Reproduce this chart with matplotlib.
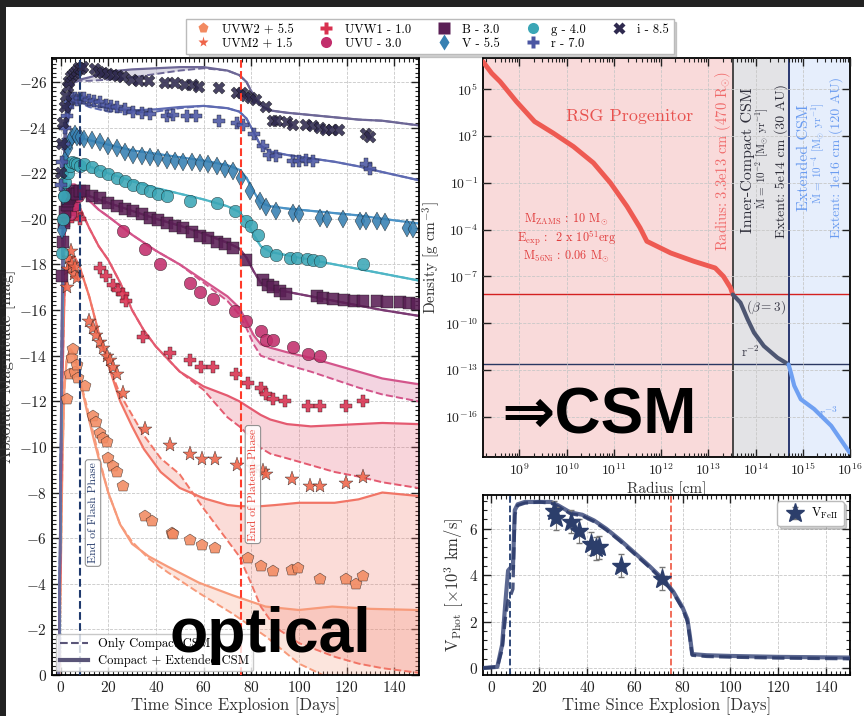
import numpy as np
import matplotlib
matplotlib.use('Agg')
import matplotlib.pyplot as plt
from matplotlib.lines import Line2D
from matplotlib.patches import Rectangle
from matplotlib.ticker import (MultipleLocator, FixedLocator, LogLocator,
                               NullLocator, LogFormatterSciNotation, NullFormatter)

plt.rcParams['font.family'] = 'serif'
plt.rcParams['font.serif'] = ['cmr10']
plt.rcParams['mathtext.fontset'] = 'cm'
plt.rcParams['axes.formatter.use_mathtext'] = True
plt.rcParams['axes.unicode_minus'] = True

# ---------------- light-curve data (days, shifted magnitudes) ----------------
uvw2_t = [2.5, 4.0, 4.8, 5.3, 6.0, 6.7, 7.5, 10.2, 13.7, 15.0, 16.5, 18.0, 19.3, 20.0, 22.0, 23.5,
          26.3, 35.4, 38.2, 46.6, 47.2, 54.3, 59.2, 64.8, 78.7, 84.3, 89.0, 96.9, 99.7, 108.8,
          119.8, 124.0, 127.0]
uvw2_m = [-12.1, -13.2, -13.9, -14.3, -13.3, -13.6, -13.0, -12.67, -11.35, -11.1, -10.6, -10.4,
          -10.2, -9.5, -9.15, -8.9, -8.28, -6.96, -6.75, -6.24, -6.2, -5.94, -5.7, -5.56, -5.12,
          -4.77, -4.55, -4.6, -4.7, -4.2, -4.19, -3.97, -4.34]
uvm2_t = [2.5, 3.0, 3.5, 4.2, 5.0, 5.5, 6.2, 7.0, 12.0, 13.5, 15.0, 16.5, 18.0, 19.5, 20.7, 22.0,
          23.5, 26.3, 35.4, 45.9, 54.3, 59.2, 64.8, 73.9, 80.9, 85.0, 86.4, 96.9, 104.6, 108.8,
          119.8, 127.0]
uvm2_m = [-17.0, -17.8, -18.3, -18.6, -18.0, -17.6, -17.9, -17.4, -15.5, -15.2, -14.9, -14.6,
          -14.35, -14.0, -13.8, -13.5, -13.2, -12.37, -10.77, -10.1, -9.67, -9.45, -9.45, -9.2,
          -9.1, -8.95, -8.8, -8.6, -8.28, -8.3, -8.4, -8.7]
uvw1_t = [3.0, 4.0, 5.0, 6.0, 7.0, 8.0, 16.5, 19.0, 22.0, 24.0, 26.0, 27.6, 34.7, 46.0, 54.3,
          59.0, 64.0, 73.8, 78.7, 84.3, 86.4, 89.0, 94.0, 104.0, 109.0, 119.8, 126.8]
uvw1_m = [-19.9, -20.4, -20.8, -20.5, -20.2, -20.0, -17.86, -17.5, -17.1, -16.9, -16.7, -16.4,
          -14.8, -14.1, -13.8, -13.5, -13.5, -13.2, -12.8, -12.6, -12.3, -12.1, -12.0, -11.8,
          -11.8, -11.8, -12.0]
uvu_t = [4.0, 5.0, 5.5, 6.6, 7.5, 26.3, 35.4, 41.7, 54.3, 58.5, 64.0, 73.0, 78.0, 84.0, 86.4,
         89.0, 97.5, 104.0, 109.0]
uvu_m = [-20.2, -21.0, -20.6, -21.2, -21.0, -19.47, -18.66, -18.0, -17.2, -16.8, -16.47, -15.95,
         -15.5, -15.1, -14.7, -14.7, -14.4, -14.06, -14.0]
b_t = [0.5, 1.0, 1.5, 2.0, 2.5, 3.0, 3.5, 4.0, 5.0, 6.0, 7.0, 8.0, 10.0, 13.0, 16.5, 20.0, 23.5,
       27.0, 30.5, 34.0, 37.5, 41.0, 44.5, 48.0, 51.4, 55.0, 58.5, 62.0, 65.5, 69.0, 72.5, 78.0,
       85.0, 87.0, 89.0, 92.0, 94.7, 107.4, 110.0, 114.4, 119.0, 123.0, 127.0, 132.7, 137.0,
       142.4, 146.0, 149.5]
b_m = [-17.5, -19.0, -19.8, -20.3, -20.6, -20.8, -20.9, -21.0, -21.1, -21.2, -21.1, -21.2, -21.2,
       -21.0, -20.9, -20.7, -20.56, -20.45, -20.34, -20.2, -20.05, -19.95, -19.83, -19.7, -19.6,
       -19.4, -19.25, -19.15, -19.0, -18.9, -18.74, -18.2, -17.3, -17.1, -17.0, -16.85, -16.7,
       -16.6, -16.55, -16.5, -16.45, -16.4, -16.4, -16.4, -16.35, -16.35, -16.3, -16.25]
g_t = [0.5, 1.0, 1.5, 2.0, 3.0, 4.0, 5.0, 6.0, 7.0, 8.0, 10.0, 13.0, 16.5, 20.0, 23.5, 27.0, 30.5,
       34.0, 37.5, 41.0, 44.5, 54.3, 65.5, 73.0, 78.0, 80.0, 83.0, 86.4, 90.5, 96.3, 99.0, 103.2,
       106.0, 109.0, 127.0]
g_m = [-18.5, -20.0, -21.0, -21.6, -22.0, -22.3, -22.5, -22.45, -22.4, -22.3, -22.4, -22.25,
       -22.1, -21.95, -21.8, -21.65, -21.5, -21.35, -21.2, -21.1, -21.0, -20.8, -20.7, -20.35,
       -19.9, -19.7, -19.3, -18.6, -18.4, -18.3, -18.3, -18.25, -18.2, -18.15, -18.0]
v_t = [0.5, 1.0, 1.5, 2.0, 3.0, 4.0, 5.0, 6.0, 7.0, 8.0, 10.0, 13.0, 16.5, 20.0, 23.5, 27.0, 30.5,
       34.0, 37.5, 41.0, 44.5, 48.0, 51.4, 55.0, 58.5, 62.0, 65.5, 69.0, 72.5, 75.5, 79.4, 83.6,
       86.4, 90.5, 97.5, 100.0, 108.8, 112.0, 118.6, 125.6, 128.0, 132.7, 136.0, 145.3, 148.0]
v_m = [-19.5, -21.0, -22.0, -22.6, -23.1, -23.4, -23.6, -23.7, -23.6, -23.6, -23.5, -23.45,
       -23.35, -23.2, -23.1, -22.95, -22.8, -22.75, -22.7, -22.65, -22.6, -22.55, -22.5, -22.5,
       -22.45, -22.4, -22.3, -22.2, -22.1, -21.8, -21.2, -20.78, -20.5, -20.34, -20.25, -20.2,
       -20.05, -20.0, -19.97, -19.9, -19.9, -19.9, -19.85, -19.6, -19.55]
r_t = [0.3, 0.8, 1.3, 1.8, 2.5, 3.2, 4.0, 5.0, 6.0, 7.0, 8.0, 9.8, 12.0, 14.0, 16.5, 19.0, 21.0,
       23.5, 27.0, 30.5, 34.0, 37.5, 44.5, 47.0, 53.0, 57.0, 66.5, 74.0, 76.7, 81.0, 85.0, 87.6,
       90.5, 97.5, 100.0, 103.0, 106.0, 128.0, 130.0]
r_m = [-21.5, -22.5, -23.3, -24.0, -24.5, -24.9, -25.1, -25.3, -25.3, -25.2, -25.3, -25.3, -25.2,
       -25.15, -25.1, -25.0, -24.95, -24.9, -24.8, -24.7, -24.65, -24.6, -24.5, -24.55, -24.5,
       -24.5, -24.3, -24.2, -24.1, -23.7, -23.2, -22.8, -22.75, -22.54, -22.55, -22.6, -22.55,
       -22.4, -22.2]
i_t = [0.2, 0.7, 1.2, 1.7, 2.3, 3.0, 3.7, 4.4, 5.2, 6.0, 6.8, 7.6, 8.5, 9.5, 14.5, 16.0, 18.0,
       20.0, 22.0, 24.0, 26.0, 30.0, 33.0, 37.0, 44.0, 48.0, 52.0, 55.6, 58.0, 66.5, 73.9, 76.0,
       78.0, 80.0, 82.0, 86.0, 89.0, 91.0, 95.0, 97.6, 103.0, 106.0, 109.0, 111.5, 114.0, 117.0,
       128.0, 129.8]
i_m = [-22.0, -23.3, -24.2, -24.9, -25.4, -25.8, -26.0, -26.2, -26.3, -26.4, -26.5, -26.6, -26.55,
       -26.65, -26.55, -26.45, -26.4, -26.35, -26.3, -26.25, -26.2, -26.1, -26.05, -26.05, -25.95,
       -25.95, -25.85, -25.85, -25.8, -25.75, -25.5, -25.5, -25.4, -25.3, -25.2, -24.9, -24.3,
       -24.3, -24.25, -24.1, -24.1, -24.05, -24.0, -23.9, -23.9, -23.9, -23.7, -23.6]

# ---------------- model light curves ----------------
opt_mt = [-0.8, 0.0, 0.8, 1.6, 2.5, 4.0, 6.0, 8.0, 12, 20, 30, 40, 50, 60, 70, 75, 78, 81, 84, 88,
          95, 105, 115, 125, 135, 150]
i_solid = [1.0, -9.0, -19.0, -23.5, -25.0, -25.7, -26.0, -26.1, -26.2, -26.45, -26.55, -26.6,
           -26.65, -26.65, -26.5, -26.3, -26.0, -25.4, -24.95, -24.75, -24.65, -24.55, -24.45,
           -24.35, -24.3, -24.1]
i_dash = [1.0, -9.0, -19.0, -23.5, -25.0, -25.7, -26.0, -26.05, -26.05, -26.1, -26.2, -26.35,
          -26.5, -26.6, -26.5, -26.3, -26.0, -25.4, -24.95, -24.75, -24.65, -24.55, -24.45,
          -24.35, -24.3, -24.1]
r_solid = [1.0, -8.5, -18.0, -22.3, -24.0, -24.8, -25.1, -25.1, -25.0, -24.85, -24.75, -24.8,
           -24.9, -24.95, -24.85, -24.7, -24.4, -23.8, -23.2, -22.95, -22.8, -22.65, -22.5, -22.3,
           -22.05, -21.7]
r_dash = [1.0, -8.5, -18.0, -22.3, -24.0, -24.8, -25.1, -25.1, -24.9, -24.7, -24.65, -24.7,
          -24.85, -24.95, -24.85, -24.7, -24.4, -23.8, -23.2, -22.95, -22.8, -22.65, -22.5, -22.3,
          -22.05, -21.7]
v_solid = [1.0, -8.0, -17.0, -21.3, -22.7, -23.4, -23.6, -23.55, -23.45, -23.25, -23.0, -22.85,
           -22.7, -22.55, -22.35, -22.15, -21.8, -21.2, -20.7, -20.55, -20.45, -20.35, -20.25,
           -20.15, -20.0, -19.8]
g_solid = [1.0, -7.5, -16.5, -20.5, -21.8, -22.4, -22.5, -22.45, -22.3, -22.0, -21.65, -21.35,
           -21.1, -20.85, -20.55, -20.3, -19.9, -19.3, -18.8, -18.55, -18.4, -18.2, -18.0, -17.8,
           -17.6, -17.3]
b_solid = [1.0, -7.0, -15.5, -19.5, -20.8, -21.3, -21.35, -21.2, -21.0, -20.7, -20.35, -20.0,
           -19.7, -19.35, -18.95, -18.7, -18.3, -17.7, -17.2, -16.95, -16.8, -16.6, -16.4, -16.2,
           -16.0, -15.75]

uv_mt = [-0.8, 0.0, 0.8, 1.6, 2.5, 4.0, 6.0, 8.0, 12, 16, 20, 25, 30, 35, 40, 50, 60, 70, 75, 78,
         81, 84, 88, 95, 105, 115, 125, 135, 150]
uvu_solid = [1.0, -7.0, -15.5, -19.5, -20.9, -21.5, -21.5, -21.3, -20.8, -20.4, -20.1, -19.7,
             -19.3, -18.95, -18.6, -18.0, -17.3, -16.6, -16.1, -15.5, -14.9, -14.5, -14.35, -14.15,
             -13.9, -13.6, -13.3, -13.0, -12.75]
uvu_dash = [1.0, -7.0, -15.5, -19.5, -20.9, -21.5, -21.5, -21.3, -20.8, -20.4, -20.1, -19.7,
            -19.3, -18.95, -18.6, -18.0, -17.2, -16.4, -15.8, -15.2, -14.5, -14.0, -13.85, -13.6,
            -13.3, -12.95, -12.6, -12.3, -12.0]
uvw1_solid = [1.0, -6.5, -15.0, -19.0, -20.5, -20.9, -20.8, -20.5, -19.6, -18.8, -18.2, -17.2,
              -16.0, -15.1, -14.4, -13.3, -12.65, -12.25, -12.0, -11.8, -11.6, -11.4, -11.2,
              -11.0, -10.9, -10.95, -11.0, -11.05, -11.0]
uvw1_dash = [1.0, -6.5, -15.0, -19.0, -20.5, -20.9, -20.8, -20.5, -19.6, -18.8, -18.2, -17.2,
             -16.0, -15.1, -14.4, -13.3, -12.5, -11.3, -10.9, -10.6, -10.3, -9.95, -9.7, -9.5,
             -9.2, -8.9, -8.7, -8.45, -8.2]

uvm2_mt = [-0.8, 0.0, 0.8, 1.6, 2.5, 4.0, 6.0, 8.0, 12, 16, 20, 25, 30, 35, 42, 50, 60, 70, 75, 80,
           84, 90, 100, 115, 125, 135, 150]
uvm2_solid = [1.0, -5.5, -13.0, -16.5, -17.8, -18.3, -18.3, -17.9, -16.6, -15.0, -13.6, -12.0,
              -10.9, -9.9, -8.9, -8.2, -7.75, -7.45, -7.4, -7.4, -7.4, -7.45, -7.55, -7.55, -7.7,
              -8.0, -7.85]
uvm2_dash = [1.0, -5.5, -13.0, -16.5, -17.8, -18.3, -18.3, -17.9, -16.6, -15.0, -13.6, -12.3,
             -11.4, -10.5, -9.5, -8.8, -7.3, -5.9, -5.2, -4.0, -3.0, -2.1, -1.4, -0.8, -0.5, -0.3,
             -0.1]

uvw2_mt = [-0.8, 0.0, 0.8, 1.6, 2.5, 4.0, 6.0, 8.0, 11, 14, 17, 20, 25, 30, 37, 45, 58, 72, 86,
           100, 114, 130, 150]
uvw2_solid = [1.0, -4.0, -9.5, -12.5, -13.8, -14.3, -14.0, -13.0, -11.6, -10.3, -9.1, -8.0, -6.6,
              -5.75, -5.2, -4.75, -4.05, -3.5, -3.0, -2.85, -3.0, -2.9, -2.85]
uvw2_dash = [1.0, -4.0, -9.5, -12.5, -13.8, -14.3, -14.0, -13.0, -11.8, -10.5, -9.2, -8.0, -6.6,
             -5.85, -5.1, -4.5, -3.6, -2.7, -1.7, -0.5, 0.2, 0.6, 0.9]

band_labels = ['UVW2 + 5.5', 'UVM2 + 1.5', 'UVW1 - 1.0', 'UVU - 3.0', 'B - 3.0', 'V - 5.5',
               'g - 4.0', 'r - 7.0', 'i - 8.5']
band_colors = ['#f28a61', '#ee6449', '#d8304f', '#c22e6c', '#5a1f55', '#3780b2', '#3ba6b6',
               '#4b56a3', '#2f2a4f']
model_colors = ['#f79a7a', '#f17566', '#e45a70', '#d3558b', '#7b3b73', '#4c93c6', '#4fb6c6',
                '#5e6ab1', '#6d6796']
band_markers = ['p', '*', 'P', 'o', 's', 'd', 'o', 'P', 'X']

# ---------------- velocity data ----------------
vel_t = [26.4, 27.1, 33.3, 36.8, 41.7, 43.8, 45.1, 54.2, 71.5]
vel_v = [6.75, 6.45, 6.3, 5.9, 5.35, 5.15, 5.2, 4.4, 3.85]
vel_err = [0.45, 0.5, 0.5, 0.5, 0.5, 0.5, 0.5, 0.5, 0.5]
velm_t = [-3.5, 2.5, 4.5, 6.0, 7.0, 8.3, 9.0, 9.8, 11, 14, 20, 25, 28, 33, 38, 43, 48, 54, 60, 66,
          72, 76, 80, 82, 83, 84, 90, 100, 120, 150]
velm_solid = [0, 0.05, 1.0, 3.0, 4.2, 4.35, 4.3, 6.8, 7.05, 7.15, 7.15, 7.15, 7.0, 6.7, 6.6, 6.35,
              6.0, 5.5, 4.95, 4.4, 3.8, 3.3, 2.6, 2.1, 1.4, 0.6, 0.55, 0.52, 0.48, 0.45]
velm_dash = [0, 0.05, 0.8, 2.3, 2.9, 3.2, 3.4, 6.6, 7.0, 7.1, 7.15, 7.1, 6.95, 6.65, 6.55, 6.3,
             5.95, 5.45, 4.9, 4.35, 3.75, 3.25, 2.55, 2.0, 1.3, 0.55, 0.5, 0.47, 0.43, 0.4]

# ---------------- density profile ----------------
rsg_r = [1.7e8, 2.6e8, 3.9e8, 8.7e8, 2.1e9, 5.2e9, 1.4e10, 3.7e10, 8.5e10, 1.9e11, 3.6e11, 5.0e11,
         1.6e12, 4.9e12, 1.4e13, 2.1e13, 2.95e13, 3.3e13]
rsg_rho = [5.8e6, 1.05e6, 3.1e5, 1.6e4, 850, 155, 21, 1.9, 0.098, 3.1e-3, 1.3e-4, 1.8e-5, 3.2e-6,
           9.5e-7, 3.5e-7, 1.0e-7, 1.9e-8, 7e-9]
csm1_r = [3.3e13, 4.8e13, 6.8e13, 9.3e13, 1.5e14, 2.9e14, 5e14]
csm1_rho = [7e-9, 2.1e-9, 1.8e-10, 2.5e-11, 3.5e-12, 6.3e-13, 2.3e-13]
csm2_r = [5e14, 5.6e14, 6.6e14, 9.1e14, 1.74e15, 4e15, 9.8e15]
csm2_rho = [2.3e-13, 6.9e-14, 1e-14, 1.35e-15, 3.2e-16, 2.7e-17, 5.2e-19]

# =====================================================================
fig = plt.figure(figsize=(8.64, 7.16), dpi=100)
fig.patches.append(Rectangle((0, 0), 6 / 864, 1, transform=fig.transFigure,
                             facecolor='#222222', edgecolor='none', zorder=-5))
fig.patches.append(Rectangle((0, 1 - 7 / 716), 1, 7 / 716, transform=fig.transFigure,
                             facecolor='#222222', edgecolor='none', zorder=-5))

ax = fig.add_axes([52 / 864, 1 - 675 / 716, 367 / 864, 617 / 716])
axd = fig.add_axes([483 / 864, 1 - 457 / 716, 367 / 864, 399 / 716])
axv = fig.add_axes([483 / 864, 1 - 675 / 716, 367 / 864, 180 / 716])

grid_kw = dict(color='#c8c8c8', ls='--', lw=0.6)


def style(a, fs=11):
    a.tick_params(which='both', direction='in', top=True, right=True, labelsize=fs,
                  colors='#222222')
    a.tick_params(which='major', length=6, width=1.0)
    a.tick_params(which='minor', length=3, width=0.8)
    for s in a.spines.values():
        s.set_linewidth(1.3)


# ---------------- left panel ----------------
data_t = [uvw2_t, uvm2_t, uvw1_t, uvu_t, b_t, v_t, g_t, r_t, i_t]
data_m = [uvw2_m, uvm2_m, uvw1_m, uvu_m, b_m, v_m, g_m, r_m, i_m]
mod_t = [uvw2_mt, uvm2_mt, uv_mt, uv_mt, opt_mt, opt_mt, opt_mt, opt_mt, opt_mt]
mod_s = [uvw2_solid, uvm2_solid, uvw1_solid, uvu_solid, b_solid, v_solid, g_solid, r_solid,
         i_solid]
mod_d = [uvw2_dash, uvm2_dash, uvw1_dash, uvu_dash, b_solid, v_solid, g_solid, r_dash, i_dash]

handles = []
for k in range(9):
    mc = model_colors[k]
    ax.fill_between(mod_t[k], mod_s[k], mod_d[k], color=mc, alpha=0.25, lw=0, zorder=1)
    ax.plot(mod_t[k], mod_s[k], color=mc, lw=1.6, zorder=2)
    ax.plot(mod_t[k], mod_d[k], color=mc, lw=1.4, ls='--', zorder=2)
for k in range(9):
    c = band_colors[k]
    ms = 11 if band_markers[k] == '*' else 9
    ax.plot(data_t[k], data_m[k], ls='none', marker=band_markers[k], ms=ms, mfc=c, mec='#111111',
            mew=0.3, alpha=0.88, zorder=3)
    handles.append(Line2D([], [], ls='none', marker=band_markers[k], ms=8, mfc=c, mec='none',
                          label=band_labels[k]))

ax.axvline(8.3, color='#1f3a6e', ls='--', lw=1.5, zorder=4)
ax.axvline(75.5, color='#ff3b2a', ls='--', lw=1.5, zorder=4)
ax.text(13.6, -7.1, 'End of Flash Phase', rotation=90, ha='center', va='center', fontsize=8.5,
        color='#2a3f6e', zorder=6,
        bbox=dict(boxstyle='round,pad=0.25', fc='white', ec='#888888', lw=0.8, alpha=0.9))
ax.text(80.7, -8.35, 'End of Plateau Phase', rotation=90, ha='center', va='center', fontsize=8.5,
        color='#e8443a', zorder=6,
        bbox=dict(boxstyle='round,pad=0.25', fc='white', ec='#888888', lw=0.8, alpha=0.9))

ax.set_xlim(-3.6, 150.4)
ax.set_ylim(0, -27.05)
ax.xaxis.set_major_locator(MultipleLocator(20))
ax.xaxis.set_minor_locator(MultipleLocator(2))
ax.yaxis.set_major_locator(MultipleLocator(2))
ax.yaxis.set_minor_locator(MultipleLocator(0.2))
ax.grid(True, which='major', **grid_kw)
ax.set_axisbelow(True)
style(ax)
ax.set_xlabel('Time Since Explosion [Days]', fontsize=12, color='#333333', labelpad=2)
ax.set_ylabel('Absolute Magnitude [mag]', fontsize=12, color='#333333')
ax.yaxis.set_label_coords(-0.098, 0.5)

lh = [Line2D([], [], color='#5a5578', ls='--', lw=1.5, label='Only Compact CSM'),
      Line2D([], [], color='#5a5578', ls='-', lw=3, label='Compact + Extended CSM')]
leg = ax.legend(handles=lh, loc='lower left', fontsize=9, frameon=True, borderaxespad=0.3,
                handlelength=2.2, labelspacing=0.3, borderpad=0.35)
leg.get_frame().set_edgecolor('#bbbbbb')
leg.set_zorder(7)

fig.legend(handles=handles, loc='upper center', bbox_to_anchor=(430 / 864, 1 - 13 / 716), ncol=5,
           fontsize=9, frameon=True, fancybox=False, shadow={'alpha': 0.25, 'ox': 2, 'oy': -2},
           handletextpad=0.5, columnspacing=1.6, labelspacing=0.15, borderpad=0.35,
           edgecolor='#bbbbbb')

# ---------------- density panel ----------------
r_lo, r_hi = 1.7e8, 1e16
axd.axvspan(r_lo, 3.3e13, color='#f9dada', lw=0, zorder=0)
axd.axvspan(3.3e13, 5e14, color='#e3e3e6', lw=0, zorder=0)
axd.axvspan(5e14, r_hi, color='#e6eefc', lw=0, zorder=0)
axd.set_xscale('log')
axd.set_yscale('log')
axd.set_xlim(r_lo, r_hi)
axd.set_ylim(2.7e-19, 1e7)
axd.grid(True, which='major', **grid_kw)
axd.set_axisbelow(False)
axd.axhline(7e-9, color='#d42020', lw=1.0, zorder=2)
axd.axhline(2.3e-13, color='#2a3762', lw=1.0, zorder=2)
axd.axvline(3.3e13, color='#3a3a3a', lw=1.3, zorder=2)
axd.axvline(5e14, color='#1c2a66', lw=1.3, zorder=2)
axd.plot(rsg_r, rsg_rho, color='#ee5a52', lw=3.5, zorder=3, solid_capstyle='round')
axd.plot(csm1_r, csm1_rho, color='#4d5672', lw=3, zorder=3, solid_capstyle='round')
axd.plot(csm2_r, csm2_rho, color='#6fa0f2', lw=3, zorder=3, solid_capstyle='round')

axd.xaxis.set_major_locator(LogLocator(base=10, numticks=20))
axd.xaxis.set_minor_locator(LogLocator(base=10, subs=np.arange(2, 10), numticks=100))
axd.xaxis.set_minor_formatter(NullFormatter())
axd.yaxis.set_major_locator(FixedLocator([1e5, 1e2, 1e-1, 1e-4, 1e-7, 1e-10, 1e-13, 1e-16]))
axd.yaxis.set_major_formatter(LogFormatterSciNotation())
axd.yaxis.set_minor_locator(NullLocator())
style(axd, fs=10)
axd.set_xlabel('Radius [cm]', fontsize=11, color='#333333', labelpad=2)
axd.set_ylabel(r'Density [g cm$^{-3}$]', fontsize=11, color='#333333', labelpad=2)

axd.text(2.2e11, 1.9e3, 'RSG Progenitor', color='#e8524f', fontsize=13, ha='center', va='center')
axd.text(1e10, 3e-5, 'M$_{\\rm ZAMS}$ : 10 M$_{\\odot}$\nE$_{\\rm exp}$ :  2 x 10$^{51}$erg\n'
         'M$_{\\rm 56Ni}$ : 0.06 M$_{\\odot}$', color='#e03c3c', fontsize=8.8, ha='center',
         va='center', linespacing=1.1, multialignment='center')
rot = dict(rotation=90, ha='center', va='center')
axd.text(2.0e13, 2.5, r'Radius: 3.3e13 cm (470 R$_{\odot}$)', color='#f06a6a', fontsize=10.5, **rot)
axd.text(6.8e13, 3, 'Inner-Compact CSM', color='#2e2e3a', fontsize=11.5, **rot)
axd.text(1.4e14, 4, r'$\dot{\rm M}$ = 10$^{-2}$ [M$_{\odot}$ yr$^{-1}$]', color='#2e2e3a',
         fontsize=8, **rot)
axd.text(3.5e14, 2.5, 'Extent: 5e14 cm (30 AU)', color='#2e2e3a', fontsize=10, **rot)
axd.text(1.07e15, 4, 'Extended CSM', color='#6b9cf0', fontsize=11.5, **rot)
axd.text(2.2e15, 8, r'$\dot{\rm M}$ = 10$^{-4}$ [M$_{\odot}$ yr$^{-1}$]', color='#6b9cf0',
         fontsize=8, **rot)
axd.text(5e15, 4, 'Extent: 1e16 cm (120 AU)', color='#6b9cf0', fontsize=10, **rot)
axd.text(1.66e14, 1.1e-9, r'$(\beta = 3)$', color='#3a3a48', fontsize=9.5, ha='center',
         va='center')
axd.text(8e13, 1.45e-12, r'r$^{-2}$', color='#3a3a48', fontsize=9.5, ha='center', va='center')
axd.text(3.5e15, 1.8e-16, r'r$^{-3}$', color='#6b9cf0', fontsize=9.5, ha='center', va='center')

# ---------------- velocity panel ----------------
axv.plot(velm_t, velm_solid, color='#3f4e7e', lw=3, alpha=0.85, zorder=3)
axv.plot(velm_t, velm_dash, color='#2b3a6a', lw=2.4, ls='--', alpha=0.85, zorder=3)
axv.errorbar(vel_t, vel_v, yerr=vel_err, ls='none', marker='*', ms=14, color='#2c3e6b',
             mec='#2c3e6b', ecolor='#777777', elinewidth=0.8, capsize=2, zorder=4,
             label=r'V$_{\rm FeII}$')
axv.axvline(8.0, color='#1f3a6e', ls='--', lw=1.3, zorder=2)
axv.axvline(75.0, color='#f0624e', ls='--', lw=1.3, zorder=2)
axv.set_xlim(-3.5, 150)
axv.set_ylim(-0.3, 7.45)
axv.xaxis.set_major_locator(MultipleLocator(20))
axv.xaxis.set_minor_locator(MultipleLocator(2))
axv.yaxis.set_major_locator(MultipleLocator(2))
axv.yaxis.set_minor_locator(MultipleLocator(0.4))
axv.grid(True, which='major', **grid_kw)
style(axv)
axv.set_xlabel('Time Since Explosion [Days]', fontsize=12, color='#333333', labelpad=2)
axv.set_ylabel(r'V$_{\rm Phot}$ [$\times 10^3$ km/s]', fontsize=12, color='#333333', labelpad=2)
lv = axv.legend(loc='upper right', fontsize=9, frameon=True, handletextpad=0.3,
                shadow={'alpha': 0.25, 'ox': 2, 'oy': -2}, borderpad=0.4)
lv.get_frame().set_edgecolor('#bbbbbb')

# ---------------- overlay labels ----------------
fig.text(501 / 864, 1 - 433 / 716, '\u21d2CSM', fontsize=46, fontweight='bold',
         family=['Liberation Sans', 'DejaVu Sans'], color='black', ha='left', va='baseline',
         zorder=20)
fig.text(170 / 864, 1 - 652 / 716, 'optical', fontsize=45, fontweight='bold',
         family=['Liberation Sans', 'DejaVu Sans'], color='black', ha='left', va='baseline',
         zorder=20)

fig.savefig('out.png', dpi=100)
